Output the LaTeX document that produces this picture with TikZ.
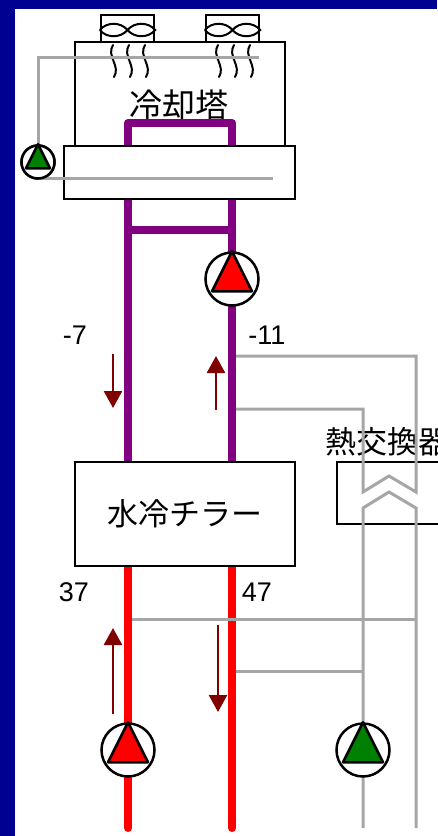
\documentclass[tikz,border=0pt]{standalone}
\usepackage{fontspec}
\setmainfont{Liberation Sans}
\newfontfamily\jpfont{Noto Sans CJK JP}
\usetikzlibrary{arrows.meta}
\definecolor{frameblue}{RGB}{0,0,145}
\definecolor{darkred}{RGB}{128,0,0}
\definecolor{pipegray}{RGB}{166,166,166}
\definecolor{pumpgreen}{RGB}{0,128,0}
\tikzset{
  box/.style={draw=black,line width=2.5pt,fill=white,inner sep=0pt,rectangle},
  purplepipe/.style={draw={rgb,255:red,128;green,0;blue,128},line width=8pt,line join=round},
  redpipe/.style={draw=red,line width=8pt,line cap=round},
  graypipe/.style={draw=pipegray,line width=3pt},
  flow/.style={draw=darkred,line width=2.5pt,-{Triangle[width=18pt,length=17pt]}},
  pumpbig/.style={draw=black,line width=2.5pt,fill=white,circle,minimum size=53pt,inner sep=0pt},
  pumpsmall/.style={draw=black,line width=2.5pt,fill=white,circle,minimum size=33pt,inner sep=0pt},
  txt/.style={inner sep=0pt,font=\fontsize{27}{27}\selectfont},
  jptxt/.style={inner sep=0pt,font=\jpfont\fontsize{31}{31}\selectfont}
}
\begin{document}
\begin{tikzpicture}[x=1pt,y=-1pt]
  \useasboundingbox (0,0) rectangle (437,836);
  \fill[frameblue] (0,0) rectangle (437,9);
  \fill[frameblue] (0,0) rectangle (15,836);

  % fans and tower
  \node[box,minimum width=53pt,minimum height=27pt](fana) at (127.5,28.5){};
  \node[box,minimum width=53pt,minimum height=27pt](fanb) at (232.5,28.5){};
  \node[box,minimum width=210pt,minimum height=104pt](tower) at (180,94){};
  \foreach \f in {fana,fanb}{
    \draw[line width=2pt] ([yshift=-1.5pt]\f.west) to[bend left=50] ([yshift=-1.5pt]\f.center) to[bend left=50] ([yshift=-1.5pt]\f.east)
      to[bend left=50] ([yshift=-1.5pt]\f.center) to[bend left=50] ([yshift=-1.5pt]\f.west);
  }
  \foreach \x in {113,129,145,218,234,250}{
    \draw[line width=2pt,line cap=round] (\x,45) .. controls (\x-7,56) and (\x+8,66) .. (\x+1,77);
  }
  \node[jptxt,font=\jpfont\fontsize{33}{33}\selectfont](towertxt) at (179,105){冷却塔};

  % pipes
  \coordinate (pa) at (128,123);
  \coordinate (pb) at (232,123);
  \coordinate (ca) at (128,230);
  \coordinate (cb) at (232,230);
  \coordinate (pc) at (128,462);
  \coordinate (pd) at (232,462);
  \draw[purplepipe] (pc)--(pa)--(pb)--(pd);
  \draw[purplepipe] (ca)--(cb);

  \coordinate (ra) at (128,566);
  \coordinate (rb) at (232,566);
  \coordinate (rc) at (128,828);
  \coordinate (rd) at (232,828);
  \draw[redpipe] (ra)--(rc);
  \draw[redpipe] (rb)--(rd);

  \node[box,minimum width=231pt,minimum height=53pt](basin) at (179.5,172.5){};
  \node[box,minimum width=220pt,minimum height=104pt,font=\jpfont\fontsize{31}{31}\selectfont](chiller) at (185,514){水冷チラー};

  % heat exchanger
  \node[box,minimum width=130pt,minimum height=62pt](hx) at (402,493){};
  \node[jptxt,anchor=west](hxtxt) at (325,442){熱交換器};

  % gray lines
  \node[pumpsmall](pump1) at (38,162){};
  \coordinate (g1) at (38,57);
  \coordinate (g2) at (259,57);
  \coordinate (g3) at (273,178);
  \coordinate (g4) at (38,178);
  \draw[graypipe] (pump1.north)--(g1)--(g2);
  \draw[graypipe] (g4)--(g3);

  \coordinate (h1) at (236,356);
  \coordinate (h2) at (416,356);
  \coordinate (h3) at (236,409);
  \coordinate (h4) at (363,409);
  \coordinate (h6) at (363,492);
  \coordinate (h7) at (389,476);
  \coordinate (h8) at (416,492);
  \coordinate (h9) at (363,508);
  \coordinate (h10) at (389,492);
  \coordinate (h11) at (416,508);
  \coordinate (h12) at (363,828);
  \coordinate (h13) at (416,828);
  \coordinate (h14) at (132,619);
  \coordinate (h15) at (416,619);
  \coordinate (h16) at (236,671);
  \coordinate (h17) at (363,671);
  \draw[graypipe] (h1)--(h2)--(h8)--(h7)--(h6)--(h4)--(h3);
  \draw[graypipe] (h12)--(h9)--(h10)--(h11)--(h13);
  \draw[graypipe] (h14)--(h15);
  \draw[graypipe] (h16)--(h17);

  % pumps
  \node[pumpbig](pump2) at (232,279){};
  \node[pumpbig](pump3) at (128,750){};
  \node[pumpbig](pump4) at (363,750){};
  \node[pumpsmall](pump1b) at (38,162){};
  \draw[line width=2.5pt,line join=round,fill=red] (pump2.north)--++(-20,40)--++(40,0)--cycle;
  \draw[line width=2.5pt,line join=round,fill=red] (pump3.north)--++(-20,40)--++(40,0)--cycle;
  \draw[line width=2.5pt,line join=round,fill=pumpgreen] (pump4.north)--++(-20,40)--++(40,0)--cycle;
  \draw[line width=2.5pt,line join=round,fill=pumpgreen] (pump1b.north)--++(-12,24)--++(24,0)--cycle;

  % flow arrows
  \coordinate (a1) at (113,354);
  \coordinate (a2) at (113,408);
  \coordinate (a3) at (216,410);
  \coordinate (a4) at (216,356);
  \coordinate (a5) at (113,714);
  \coordinate (a6) at (113,628);
  \coordinate (a7) at (218,625);
  \coordinate (a8) at (218,712);
  \draw[flow] (a1)--(a2);
  \draw[flow] (a3)--(a4);
  \draw[flow] (a5)--(a6);
  \draw[flow] (a7)--(a8);

  \node[txt](t1) at (75,335){-7};
  \node[txt](t2) at (267,335){-11};
  \node[txt](t3) at (74,592){37};
  \node[txt](t4) at (257,592){47};
\end{tikzpicture}
\end{document}
